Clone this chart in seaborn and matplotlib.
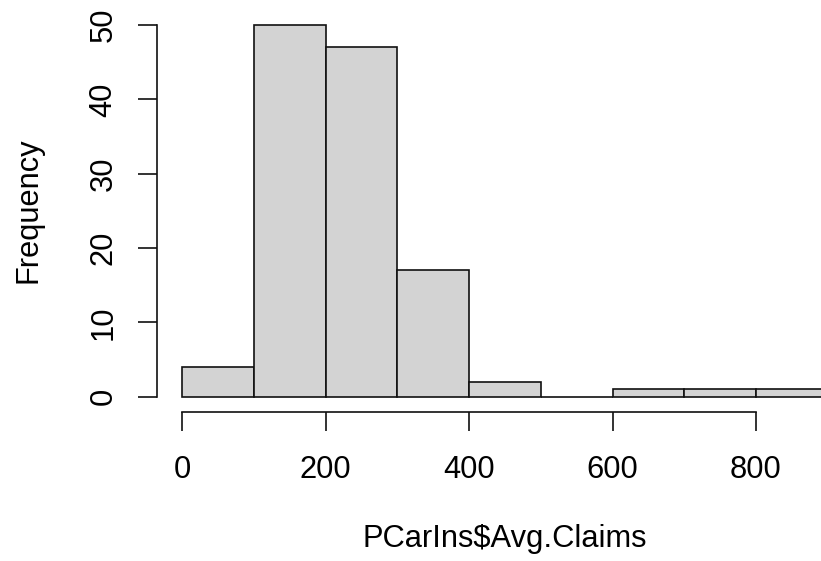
import matplotlib
matplotlib.use("Agg")
import matplotlib.pyplot as plt
import seaborn as sns
import numpy as np

# Histogram data
bin_edges = [0, 100, 200, 300, 400, 500, 600, 700, 800, 900]
counts = [4, 50, 47, 17, 2, 0, 1, 1, 1]
x_ticks = [0, 200, 400, 600, 800]
y_ticks = [0, 10, 20, 30, 40, 50]
x_label = "PCarIns$Avg.Claims"
y_label = "Frequency"

sns.set_style("white")
plt.rcParams['font.family'] = ['Liberation Sans', 'DejaVu Sans']

W, H = 821, 561
fig = plt.figure(figsize=(W / 100, H / 100), dpi=100)
left_px, right_px = 156.5, 853.5
top_px, bottom_px = 10.2, 411.5
ax = fig.add_axes([left_px / W, 1 - bottom_px / H,
                   (right_px - left_px) / W, (bottom_px - top_px) / H])

centers = [(a + b) / 2 for a, b in zip(bin_edges[:-1], bin_edges[1:])]
sns.histplot(x=centers, weights=counts, bins=bin_edges, color="#D3D3D3",
             edgecolor="#111111", linewidth=1.2, alpha=1, ax=ax)

ax.set_xlim(-36, 936)
ax.set_ylim(-2, 52)
ax.set_xticks(x_ticks)
ax.set_yticks(y_ticks)
ax.set_xticklabels([str(v) for v in x_ticks])
ax.set_yticklabels([str(v) for v in y_ticks], rotation=90, va="center")

for s in ["top", "right"]:
    ax.spines[s].set_visible(False)
for s in ["left", "bottom"]:
    ax.spines[s].set_visible(True)
    ax.spines[s].set_color("#111111")
    ax.spines[s].set_linewidth(1.2)
ax.spines["left"].set_bounds(0, 50)
ax.spines["bottom"].set_bounds(0, 800)

fs = 22.2
ax.tick_params(axis="both", direction="out", length=13.5, width=1.2,
               color="#111111", labelsize=fs, labelcolor="black",
               left=True, bottom=True)
ax.tick_params(axis="x", pad=17.5)
ax.tick_params(axis="y", pad=14)

ax.set_xlabel(x_label, fontsize=fs, color="black")
ax.set_ylabel(y_label, fontsize=fs, color="black")
ax.xaxis.set_label_coords(505 / W, 1 - 524 / H, transform=fig.transFigure)
ax.yaxis.set_label_coords(43 / W, 1 - 210 / H, transform=fig.transFigure)
ax.grid(False)

fig.savefig("out.png", dpi=100)
